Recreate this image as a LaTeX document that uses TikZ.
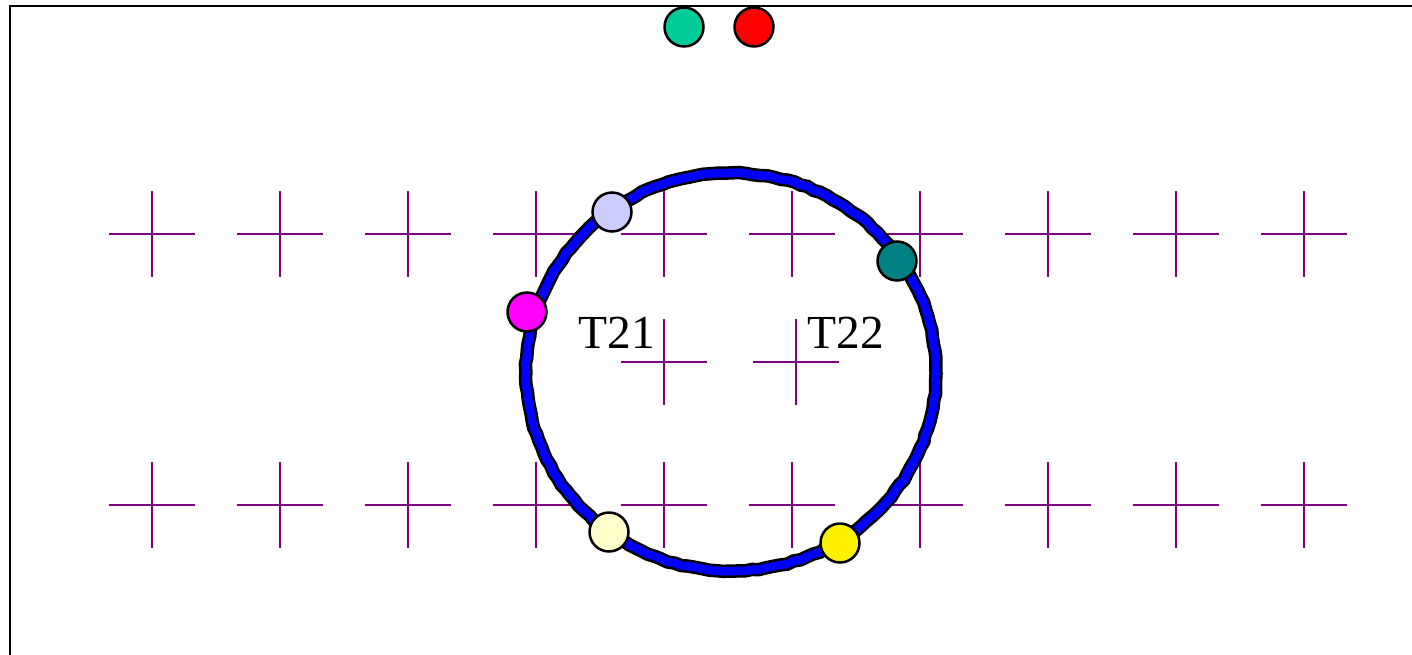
\documentclass[tikz,border=0pt]{standalone}
\usepackage{fontspec}
\setmainfont{Liberation Serif}
\usepackage{xcolor}
\usepackage{tikz}
\usetikzlibrary{positioning,decorations.pathmorphing}
\definecolor{crosspurple}{RGB}{128,0,128}
\definecolor{tokgreen}{RGB}{0,204,153}
\definecolor{toklavender}{RGB}{204,204,255}
\definecolor{tokteal}{RGB}{0,128,128}
\definecolor{tokcream}{RGB}{255,255,204}
\definecolor{tokmagenta}{RGB}{255,0,255}

\begin{document}
\begin{tikzpicture}[x=0.02cm,y=-0.02cm,
    token/.style={draw,circle,line width=0.05cm,minimum size=0.78cm,inner sep=0pt},
    cross/.style={crosspurple,line width=0.05cm},
    ring/.style={draw=black,line width=0.05cm,double=blue,double distance=0.17cm,
        decorate,decoration={random steps,segment length=4pt,amplitude=0.4pt}}]
            \useasboundingbox (0,0) rectangle (1412,655);
            % Frame
            \draw[line width=0.045cm] (10,655) -- (10,6) -- (1412,6);

            % Crosses
            \foreach \x in {152,280,...,1304} {
                \foreach \y in {234,505} {
                    \draw[cross] (\x-43,\y) -- (\x+43,\y) (\x,\y-43) -- (\x,\y+43);
                }
            }
            \foreach \x in {664,796} {
                \draw[cross] (\x-43,362) -- (\x+43,362) (\x,362-43) -- (\x,362+43);
            }

            % Ring
            \pgfmathsetseed{7}
            \draw[ring] (731,372) ellipse [x radius=4.1cm,y radius=3.98cm];

            % Tokens on the ring
            \node[token,fill=toklavender] (lavender) at (612,212) {};
            \node[token,fill=tokteal] (teal) at (897,261) {};
            \node[token,fill=tokmagenta] (magenta) at (527,312) {};
            \node[token,fill=tokcream] (cream) at (609,532) {};
            \node[token,fill=yellow] (yellow) at (840,543) {};

            % Tokens on top
            \node[token,fill=tokgreen] (green) at (684,27) {};
            \node[token,fill=red] (red) at (754,27) {};

            % Labels
            \node[font=\fontsize{27}{30}\selectfont] (t21) at (617,333) {T21};
            \node[font=\fontsize{27}{30}\selectfont] (t22) at (846,333) {T22};
        \end{tikzpicture}
\end{document}
